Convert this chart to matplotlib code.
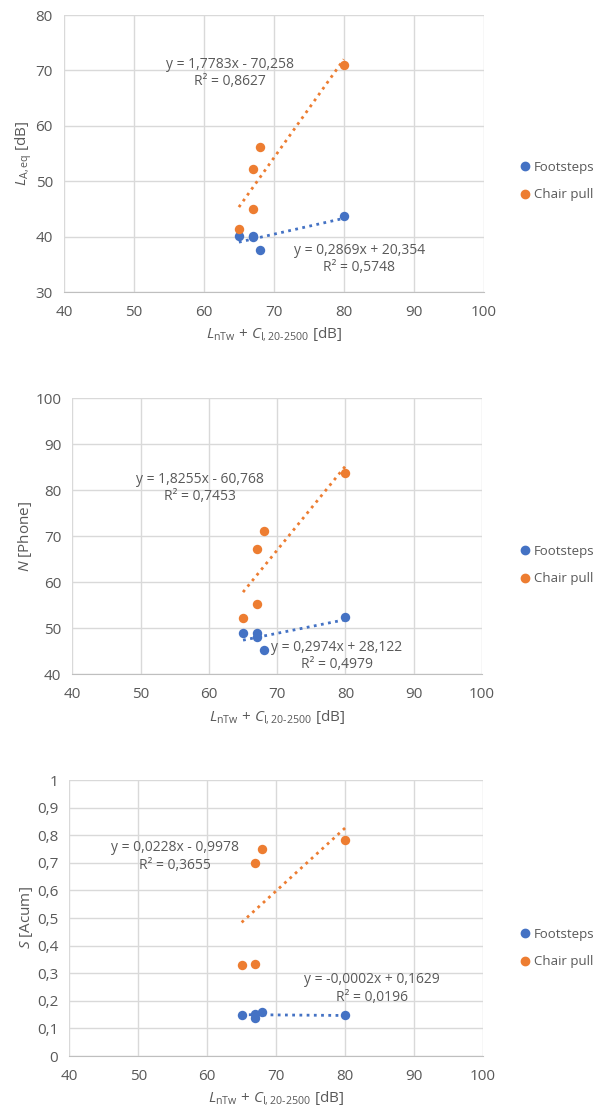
import numpy as np
import matplotlib
matplotlib.use("Agg")
from matplotlib import pyplot as plt
from matplotlib.lines import Line2D

# Dati
x_steps = [65, 67, 67, 68, 80]
x_chair = [65, 67, 67, 68, 80]

laeq_steps = [40.2, 40.1, 40.0, 37.5, 43.7]
laeq_chair = [41.4, 45.0, 52.2, 56.2, 71.0]
n_steps = [49.1, 48.9, 48.2, 45.4, 52.5]
n_chair = [52.2, 55.4, 67.2, 71.1, 83.8]
s_steps = [0.148, 0.152, 0.138, 0.160, 0.148]
s_chair = [0.330, 0.335, 0.698, 0.750, 0.782]

# coefficienti delle linee di tendenza (pendenza, intercetta, R2)
fit_laeq = [(0.2869, 20.354, 0.5748), (1.7783, -70.258, 0.8627)]
fit_n = [(0.2974, 28.122, 0.4979), (1.8255, -60.768, 0.7453)]
fit_s = [(-0.0002, 0.1629, 0.0196), (0.0228, -0.9978, 0.3655)]

BLUE = "#4472C4"
ORANGE = "#ED7D31"
GRAY = "#595959"
GRID = "#D9D9D9"

plt.rcParams["font.family"] = ["Open Sans", "DejaVu Sans"]
plt.rcParams["mathtext.fontset"] = "custom"
plt.rcParams["mathtext.rm"] = "Open Sans"
plt.rcParams["mathtext.it"] = "Open Sans:italic"

fig = plt.figure(figsize=(5.98, 11.15), dpi=100)

xlabel = r"$\mathit{L}_{\mathrm{nTw}}$ + $\mathit{C}_{\mathrm{I,20\text{-}2500}}$ [dB]"


def eq_text(m, q, r2):
    sign = "+" if q >= 0 else "-"
    ms = f"{m:.4f}".replace(".", ",")
    qs = f"{abs(q):.4f}".rstrip("0") if abs(q) < 1 else f"{abs(q):.3f}"
    qs = qs.replace(".", ",")
    return f"y = {ms}x {sign} {qs}\nR\u00b2 = {r2:.4f}".replace("0.", "0,")


def panel(rect, ys, yc, fits, ylim, yticks, ylabel, fmt, eq_pos, leg_y):
    ax = fig.add_axes(rect)
    ax.set_xlim(40, 100)
    ax.set_ylim(*ylim)
    ax.set_xticks(np.arange(40, 101, 10))
    ax.set_yticks(yticks)
    ax.set_yticklabels([fmt(v) for v in yticks])
    ax.grid(True, color=GRID, lw=1)
    ax.set_axisbelow(True)
    for s in ["top", "right", "left"]:
        ax.spines[s].set_visible(False)
    ax.spines["bottom"].set_color("#BFBFBF")
    ax.tick_params(length=0, colors=GRAY, labelsize=11, pad=8)
    ax.tick_params(axis="x", pad=9)

    xx = np.array([65, 80])
    for (m, q, r2), c, xs, yv, pos in zip(fits, [BLUE, ORANGE], [x_steps, x_chair],
                                          [ys, yc], eq_pos):
        ax.plot(xx, m * xx + q, ls=(0, (1, 1.6)), lw=2, color=c, zorder=2)
        ax.scatter(xs, yv, s=46, color=c, zorder=3, linewidths=0)
        ax.text(pos[0], pos[1], eq_text(m, q, r2), transform=ax.transData,
                ha="center", va="center", multialignment="center",
                color=GRAY, fontsize=10, linespacing=1.2, zorder=4)

    ax.set_xlabel(xlabel, color=GRAY, fontsize=11, labelpad=4)
    ax.set_ylabel(ylabel, color=GRAY, fontsize=11, labelpad=1)

    # legenda a destra, posizione in coordinate figura
    handles = [Line2D([], [], marker="o", ls="", color=BLUE, ms=6, label="Footsteps"),
               Line2D([], [], marker="o", ls="", color=ORANGE, ms=6, label="Chair pull")]
    ax.legend(handles=handles, loc="center left", bbox_to_anchor=(0.858, leg_y),
              bbox_transform=fig.transFigure,
              frameon=False, handlelength=1.0, handletextpad=0.2, labelspacing=1.1,
              labelcolor=GRAY, fontsize=9.5, borderaxespad=0)
    return ax


comma = lambda v: f"{v:g}".replace(".", ",")

panel([0.107, 0.7381, 0.702, 0.2484], laeq_steps, laeq_chair, fit_laeq,
      (30, 80), np.arange(30, 81, 10), r"$\mathit{L}_{\mathrm{A,eq}}$ [dB]",
      lambda v: f"{v:g}", [(82.2, 36.0), (63.7, 69.6)], 0.8377)

panel([0.121, 0.3951, 0.685, 0.2477], n_steps, n_chair, fit_n,
      (40, 100), np.arange(40, 101, 10), r"$\mathit{N}$ [Phone]",
      lambda v: f"{v:g}", [(78.7, 44.0), (58.7, 80.5)], 0.4933)

panel([0.116, 0.0529, 0.6915, 0.2475], s_steps, s_chair, fit_s,
      (0, 1), np.round(np.arange(0, 1.01, 0.1), 1), r"$\mathit{S}$ [Acum]",
      comma, [(83.9, 0.245), (55.3, 0.723)], 0.1498)

fig.savefig("out.png", dpi=100)
